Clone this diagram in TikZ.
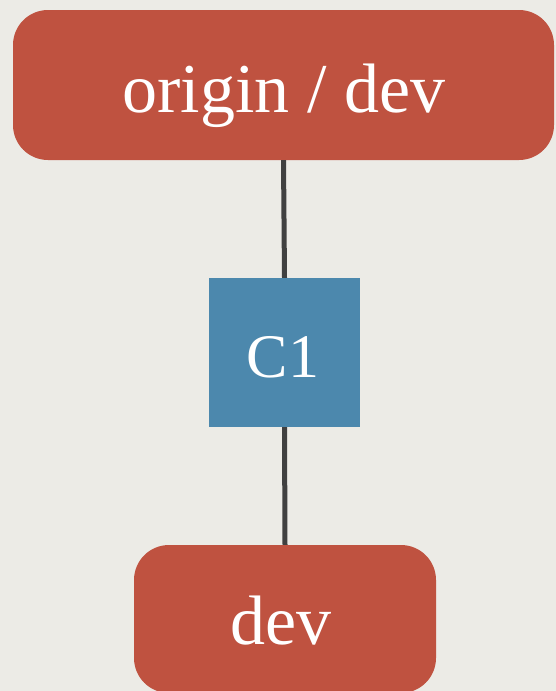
\documentclass[tikz,border=0pt]{standalone}
\usepackage{fontspec}
\setmainfont{Liberation Serif}
\definecolor{bgc}{HTML}{ECEBE6}
\definecolor{redbox}{HTML}{BF5240}
\definecolor{bluebox}{HTML}{4C88AD}
\definecolor{linec}{HTML}{404040}
\tikzset{
  refbox/.style={fill=redbox, draw=none, rounded corners=35pt, inner sep=0pt},
  commitbox/.style={fill=bluebox, draw=none, inner sep=0pt},
  lbl/.style={text=white, font=\fontsize{70}{70}\selectfont, anchor=base, inner sep=0pt},
  conn/.style={draw=linec, line width=5pt}
}
\begin{document}
\begin{tikzpicture}[x=1pt,y=-1pt]
\useasboundingbox (0,0) rectangle (556,691);
\fill[bgc] (0,0) rectangle (556,691);
\node[refbox, minimum width=541pt, minimum height=150pt] (origin) at (283.5,85) {};
\node[commitbox, minimum width=151pt, minimum height=149pt] (c1) at (284.5,352.5) {};
\node[refbox, minimum width=302pt, minimum height=148pt] (dev) at (285,619) {};
\draw[conn] (origin.south) -- (c1.north);
\draw[conn] (c1.south) -- (dev.north);
\node[lbl] (origintxt) at (284,112) {origin / dev};
\node[lbl, font=\fontsize{62}{62}\selectfont] (c1txt) at (283,377) {C1};
\node[lbl] (devtxt) at (281,644) {dev};
\end{tikzpicture}
\end{document}
